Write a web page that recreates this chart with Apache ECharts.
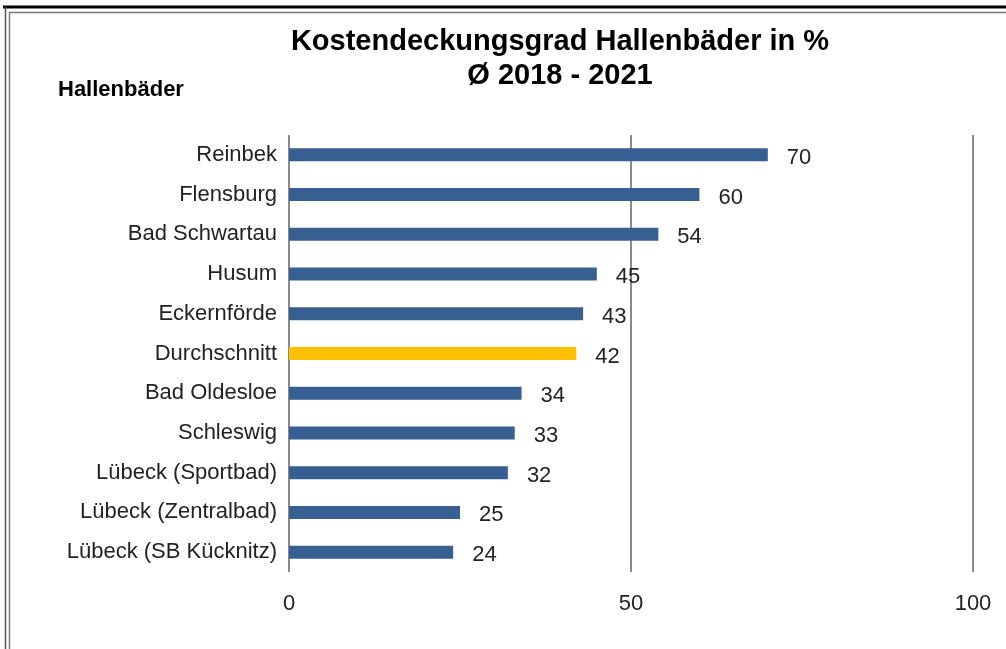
<!DOCTYPE html>
<html>
<head>
<meta charset="utf-8">
<script src="https://cdn.jsdelivr.net/npm/echarts@6/dist/echarts.min.js"></script>
<style>
  html, body { margin: 0; padding: 0; background: #fff; }
  #chart { width: 1006px; height: 649px; }
</style>
</head>
<body>
<div id="chart"></div>
<script>
// Hallenbäder, von unten nach oben (category axis starts at the bottom)
const categories = [
  'Lübeck (SB Kücknitz)',
  'Lübeck (Zentralbad)',
  'Lübeck (Sportbad)',
  'Schleswig',
  'Bad Oldesloe',
  'Durchschnitt',
  'Eckernförde',
  'Husum',
  'Bad Schwartau',
  'Flensburg',
  'Reinbek'
]
const values = [24, 25, 32, 33, 34, 42, 43, 45, 54, 60, 70]
const highlight = 'Durchschnitt'
const xTicks = [0, 50, 100]

const BLUE = '#375f91'
const GOLD = '#ffc000'
const GRID = '#8a8a8a'
const FONT = 'Liberation Sans, Arial, sans-serif'

const chart = echarts.init(document.getElementById('chart'))

const barData = values.map((v, i) => ({
  value: v,
  itemStyle: { color: categories[i] === highlight ? GOLD : BLUE }
}))

chart.setOption({
  backgroundColor: '#ffffff',
  animation: false,
  title: {
    text: 'Kostendeckungsgrad Hallenbäder in %\nØ 2018 - 2021',
    left: 555,
    top: 20,
    textAlign: 'center',
    textStyle: {
      fontFamily: FONT,
      fontWeight: 'bold',
      fontSize: 29,
      lineHeight: 34,
      color: '#000'
    }
  },
  graphic: [
    // Rahmen
    { type: 'line', shape: { x1: 3, y1: 7, x2: 1006, y2: 7 }, style: { stroke: '#000', lineWidth: 3 } },
    { type: 'line', shape: { x1: 5.5, y1: 7, x2: 5.5, y2: 649 }, style: { stroke: '#555', lineWidth: 1.5 } },
    { type: 'line', shape: { x1: 9.5, y1: 12, x2: 9.5, y2: 649 }, style: { stroke: '#777', lineWidth: 1.5 } },
    { type: 'line', shape: { x1: 9.5, y1: 12.5, x2: 1006, y2: 12.5 }, style: { stroke: '#777', lineWidth: 1.5 } },
    {
      type: 'text',
      left: 58,
      top: 79,
      style: {
        text: 'Hallenbäder',
        font: 'bold 22px ' + FONT,
        fill: '#000'
      }
    }
  ],
  grid: {
    left: 289,
    right: 33,
    top: 135,
    bottom: 77,
    containLabel: false
  },
  xAxis: {
    type: 'value',
    min: 0,
    max: 100,
    interval: 50,
    axisLine: { show: false },
    axisTick: { show: false },
    splitLine: { show: true, lineStyle: { color: GRID, width: 2 } },
    axisLabel: {
      margin: 21,
      fontFamily: FONT,
      fontSize: 22,
      color: '#222',
      formatter: v => (xTicks.includes(v) ? String(v) : '')
    }
  },
  yAxis: {
    type: 'category',
    data: categories,
    axisLine: { show: false },
    axisTick: { show: false },
    splitLine: { show: false },
    axisLabel: {
      margin: 12,
      padding: [3, 0, 0, 0],
      fontFamily: FONT,
      fontSize: 22,
      color: '#222'
    }
  },
  series: [{
    type: 'bar',
    data: barData,
    barWidth: 13,
    label: {
      show: true,
      position: 'right',
      distance: 19,
      offset: [0, 3],
      fontFamily: FONT,
      fontSize: 22,
      color: '#222'
    }
  }]
})
</script>
</body>
</html>
